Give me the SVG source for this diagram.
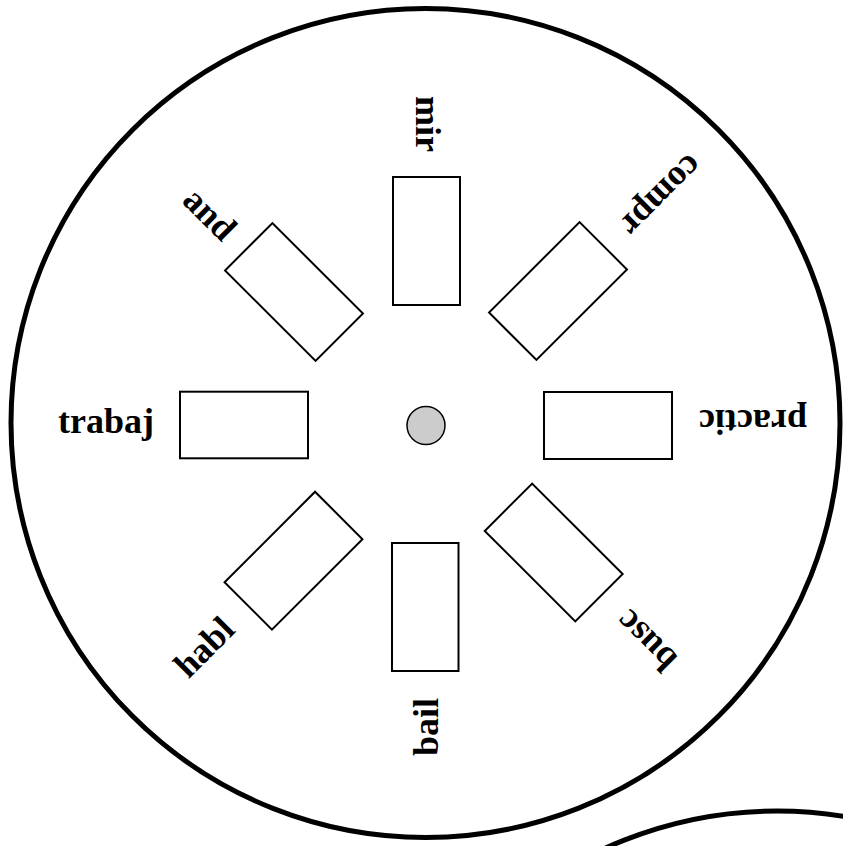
<svg xmlns="http://www.w3.org/2000/svg" width="843" height="846" viewBox="0 0 843 846">
<style>
.wheel{fill:#ffffff;stroke:#000000;stroke-width:5}
.slot{fill:#ffffff;stroke:#000000;stroke-width:2}
.hub{fill:#cccccc;stroke:#000000;stroke-width:1.5}
.lbl{font-family:"Liberation Serif","Times New Roman",serif;font-weight:bold;font-size:36px;fill:#000000;text-anchor:middle}
</style>
<rect x="0" y="0" width="843" height="846" fill="#ffffff"/>
<circle id="wheel2" class="wheel" cx="777" cy="1226" r="415"/>
<circle id="wheel" class="wheel" cx="425.5" cy="423" r="414.5"/>
<circle id="hub" class="hub" cx="426" cy="425.5" r="19"/>
<g id="node-mir">
  <rect class="slot" x="393" y="177" width="67" height="128"/>
  <text class="lbl" transform="translate(427.5,124) rotate(90)" x="0" y="12">mir</text>
</g>
<g id="node-compr">
  <rect class="slot" transform="translate(558,291) rotate(-45)" x="-64" y="-33.5" width="128" height="67"/>
  <text class="lbl" transform="translate(662,196) rotate(135)" x="0" y="12">compr</text>
</g>
<g id="node-practic">
  <rect class="slot" x="544" y="392" width="128" height="67"/>
  <text class="lbl" transform="translate(753,422) rotate(180)" x="0" y="12">practic</text>
</g>
<g id="node-busc">
  <rect class="slot" transform="translate(553.7,552.5) rotate(45)" x="-64" y="-33.5" width="128" height="67"/>
  <text class="lbl" transform="translate(646,641) rotate(225)" x="0" y="12">busc</text>
</g>
<g id="node-bail">
  <rect class="slot" x="392" y="543" width="66.5" height="128"/>
  <text class="lbl" transform="translate(426,727) rotate(270)" x="0" y="12">bail</text>
</g>
<g id="node-habl">
  <rect class="slot" transform="translate(293.5,560.7) rotate(-45)" x="-64" y="-33.5" width="128" height="67"/>
  <text class="lbl" transform="translate(204,647) rotate(315)" x="0" y="12">habl</text>
</g>
<g id="node-trabaj">
  <rect class="slot" x="180" y="391.7" width="128" height="66.6"/>
  <text class="lbl" transform="translate(106,421.3)" x="0" y="12">trabaj</text>
</g>
<g id="node-and">
  <rect class="slot" transform="translate(294,292) rotate(45)" x="-64" y="-33.5" width="128" height="67"/>
  <text class="lbl" transform="translate(210,214) rotate(45)" x="0" y="12">and</text>
</g>
<g id="connectors"></g>
</svg>
